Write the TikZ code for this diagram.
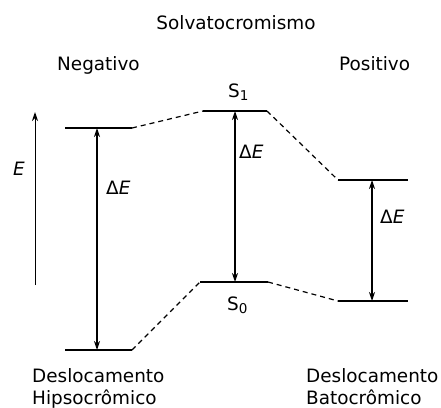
\documentclass[tikz,border=0pt]{standalone}
\usepackage{fontspec}
\setmainfont{DejaVu Sans}
\usetikzlibrary{arrows.meta}
\begin{document}
\begin{tikzpicture}[x=1pt,y=-1pt,
  txt/.style={font=\fontsize{18.4}{22}\selectfont, inner sep=0pt, anchor=base west},
  level/.style={line width=1.8pt},
  conn/.style={line width=1.2pt, dash pattern=on 5pt off 4pt},
  gap/.style={line width=1.2pt, {Stealth[length=9pt,width=6pt]}-{Stealth[length=9pt,width=6pt]}},
  axis/.style={line width=1pt, -{Stealth[length=9pt,width=6pt]}}]
\useasboundingbox (0,0) rectangle (441,407);
% levels
\coordinate (LUa) at (65,128); \coordinate (LUb) at (132,128);
\coordinate (LLa) at (65,350); \coordinate (LLb) at (132,350);
\coordinate (MUa) at (203,111); \coordinate (MUb) at (267,111);
\coordinate (MLa) at (200,282); \coordinate (MLb) at (268,282);
\coordinate (RUa) at (338,180); \coordinate (RUb) at (408,180);
\coordinate (RLa) at (338,301); \coordinate (RLb) at (408,301);
\draw[level] (LUa) -- (LUb);
\draw[level] (LLa) -- (LLb);
\draw[level] (MUa) -- (MUb);
\draw[level] (MLa) -- (MLb);
\draw[level] (RUa) -- (RUb);
\draw[level] (RLa) -- (RLb);
% dashed connectors
\draw[conn] (LUb) -- (MUa);
\draw[conn] (MUb) -- (RUa);
\draw[conn] (LLb) -- (MLa);
\draw[conn] (MLb) -- (RLa);
% gap arrows
\coordinate (g1t) at (97,128); \coordinate (g1b) at (97,350);
\coordinate (g2t) at (235,111); \coordinate (g2b) at (235,282);
\coordinate (g3t) at (372,180); \coordinate (g3b) at (372,301);
\draw[gap] (g1t) -- (g1b);
\draw[gap] (g2t) -- (g2b);
\draw[gap] (g3t) -- (g3b);
% energy axis
\coordinate (ea) at (35,285); \coordinate (eb) at (35,112);
\draw[axis] (ea) -- (eb);
\node[txt] (E) at (13,175) {\textit{E}};
% labels
\node[txt, anchor=base] (title) at (236,29) {Solvatocromismo};
\node[txt] (neg) at (57,70) {Negativo};
\node[txt] (pos) at (339,70) {Positivo};
\node[txt] (s1) at (228,97) {S\raisebox{-3pt}{\fontsize{13.5}{15}\selectfont 1}};
\node[txt] (s0) at (227,310) {S\raisebox{-3pt}{\fontsize{13.5}{15}\selectfont 0}};
\node[txt] (d1) at (106,194) {Δ\textit{E}};
\node[txt] (d2) at (239,158) {Δ\textit{E}};
\node[txt] (d3) at (380,223) {Δ\textit{E}};
\node[txt] (hl1) at (32,382) {Deslocamento};
\node[txt] (hl2) at (32,404) {Hipsocrômico};
\node[txt] (bl1) at (306,382) {Deslocamento};
\node[txt] (bl2) at (306,404) {Batocrômico};
\end{tikzpicture}
\end{document}
